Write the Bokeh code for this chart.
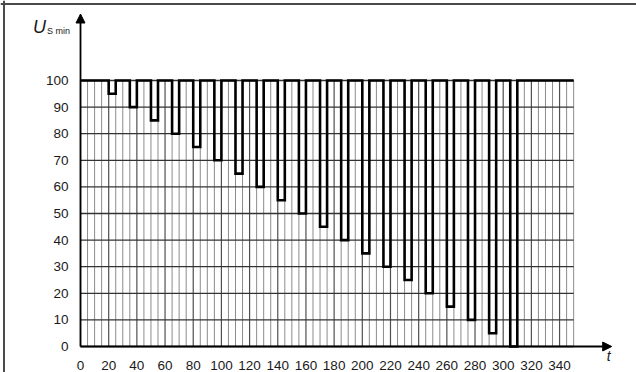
from bokeh.plotting import figure
from bokeh.models import Range1d, LinearAxis, FixedTicker, Arrow, NormalHead, Label, Span
from bokeh.embed import file_html
from bokeh.resources import INLINE

# ---- data ----
dip_start = [20, 35, 50, 65, 80, 95, 110, 125, 140, 155, 170, 185, 200, 215, 230, 245, 260, 275, 290, 305]
dip_end = [25, 40, 55, 70, 85, 100, 115, 130, 145, 160, 175, 190, 205, 220, 235, 250, 265, 280, 295, 310]
dip_level = [95, 90, 85, 80, 75, 70, 65, 60, 55, 50, 45, 40, 35, 30, 25, 20, 15, 10, 5, 0]
base_level = 100
t_start = 0
t_end = 350
x_ticks = [0, 20, 40, 60, 80, 100, 120, 140, 160, 180, 200, 220, 240, 260, 280, 300, 320, 340]
y_ticks = [0, 10, 20, 30, 40, 50, 60, 70, 80, 90, 100]
x_grid_step = 5
x_major_step = 20

# ---- build step waveform ----
xs = [t_start]
ys = [base_level]
for s, e, lv in zip(dip_start, dip_end, dip_level):
    xs += [s, s, e, e]
    ys += [base_level, lv, lv, base_level]
xs.append(t_end)
ys.append(base_level)

p = figure(width=636, height=372,
           x_range=Range1d(-56.78, 394.6), y_range=Range1d(-9.77, 130.08),
           output_backend="svg", toolbar_location=None,
           x_axis_type=None, y_axis_type=None,
           min_border=0, min_border_left=0, min_border_right=0,
           min_border_top=0, min_border_bottom=0)
p.outline_line_color = None
p.background_fill_color = "white"
p.border_fill_color = "white"

# picture frame (top and left edges)
p.add_layout(Span(location=128.76, dimension="width", line_color="#4a4a4a", line_width=2))
p.add_layout(Span(location=-54.3, dimension="height", line_color="#4a4a4a", line_width=2))

# grid
vx_minor = [t for t in range(t_start, t_end + 1, x_grid_step) if t % x_major_step != 0]
vx_major = [t for t in range(t_start, t_end + 1, x_grid_step) if t % x_major_step == 0]
p.segment(x0=vx_minor, x1=vx_minor, y0=[0] * len(vx_minor), y1=[base_level] * len(vx_minor),
          line_color="#8c8c8c", line_width=1)
p.segment(x0=vx_major, x1=vx_major, y0=[0] * len(vx_major), y1=[base_level] * len(vx_major),
          line_color="#505050", line_width=1.2)
p.segment(x0=[t_start] * len(y_ticks), x1=[t_end] * len(y_ticks), y0=y_ticks, y1=y_ticks,
          line_color="#333333", line_width=1.3)

# waveform
p.line(xs, ys, line_color="black", line_width=2.6, line_join="miter")

# axes (tick labels)
xaxis = LinearAxis(fixed_location=0, ticker=FixedTicker(ticks=x_ticks),
                   axis_line_color=None, major_tick_line_color=None, minor_tick_line_color=None,
                   major_label_text_font="Liberation Sans", major_label_text_font_size="13.5px",
                   major_label_text_color="#1a1a1a", major_label_standoff=8)
p.add_layout(xaxis, "below")
yaxis = LinearAxis(fixed_location=0, ticker=FixedTicker(ticks=y_ticks),
                   axis_line_color=None, major_tick_line_color=None, minor_tick_line_color=None,
                   major_label_text_font="Liberation Sans", major_label_text_font_size="13.5px",
                   major_label_text_color="#1a1a1a", major_label_standoff=6)
p.add_layout(yaxis, "left")

# axis arrows
p.add_layout(Arrow(end=NormalHead(size=9, fill_color="black", line_color="black"),
                   x_start=0, y_start=0, x_end=0, y_end=125, line_width=1.8, line_color="black"))
p.add_layout(Arrow(end=NormalHead(size=9, fill_color="black", line_color="black"),
                   x_start=0, y_start=0, x_end=377, y_end=0, line_width=1.8, line_color="black"))

# axis titles
p.add_layout(Label(x=-33.8, y=116.3, text="U", text_font="Liberation Sans",
                   text_font_style="italic", text_font_size="18px", text_color="#1a1a1a"))
p.add_layout(Label(x=-23.8, y=116.6, text="S min", text_font="Liberation Sans",
                   text_font_size="9px", text_color="#1a1a1a"))
p.add_layout(Label(x=373.5, y=-6.4, text="t", text_font="Liberation Sans",
                   text_font_style="italic", text_font_size="14px", text_color="#1a1a1a"))

open("out.html", "w").write(file_html(p, INLINE))
